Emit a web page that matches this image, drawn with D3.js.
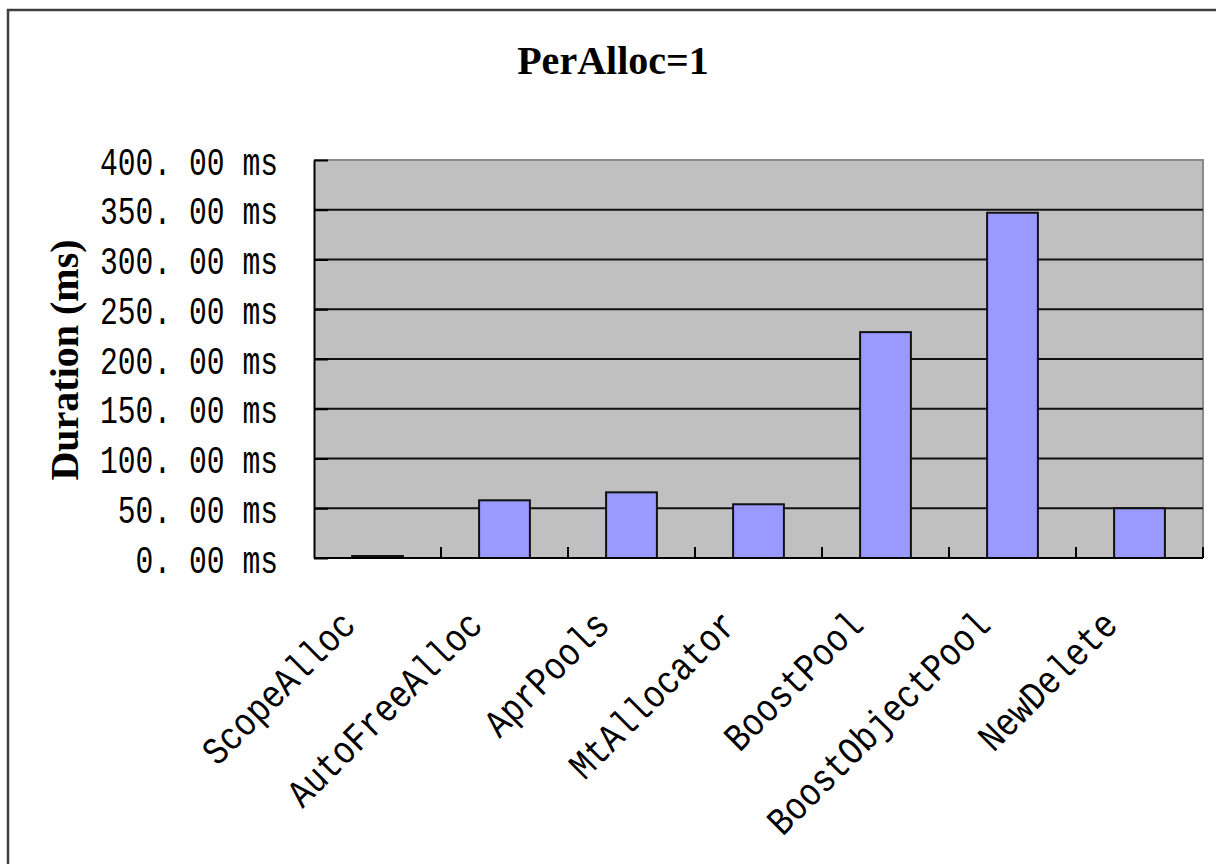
<!DOCTYPE html>
<html>
<head>
<meta charset="utf-8">
<script src="https://cdn.jsdelivr.net/npm/d3@7"></script>
<style>
  html, body { margin: 0; padding: 0; background: #fff; }
  svg { display: block; }
</style>
</head>
<body>
<svg id="chart" width="1216" height="864"></svg>
<script>
// Allocator benchmark, one allocation per iteration
const chartTitle = "PerAlloc=1";
const yAxisTitle = "Duration (ms)";
const categories = ["ScopeAlloc", "AutoFreeAlloc", "AprPools", "MtAllocator", "BoostPool", "BoostObjectPool", "NewDelete"];
const durations = [2, 58, 66, 54, 227, 347, 50];
const yTicks = [0, 50, 100, 150, 200, 250, 300, 350, 400];
const yTickFormat = v => v.toFixed(2).replace(".", ". ") + " ms";

const svg = d3.select("#chart");

// plot area
const plot = { left: 314, right: 1203, top: 160, bottom: 558 };

const x = d3.scaleBand()
  .domain(categories)
  .range([plot.left, plot.right])
  .paddingInner(0.6)
  .paddingOuter(0.3);

const y = d3.scaleLinear()
  .domain([0, 400])
  .range([plot.bottom, plot.top]);

// outer chart frame
svg.append("rect")
  .attr("x", 8).attr("y", 10)
  .attr("width", 1240).attr("height", 900)
  .attr("fill", "#fff")
  .attr("stroke", "#404040")
  .attr("stroke-width", 2.5);

// title
svg.append("text")
  .attr("x", 613).attr("y", 74)
  .attr("text-anchor", "middle")
  .attr("font-family", "'Liberation Serif', 'Times New Roman', serif")
  .attr("font-weight", "bold")
  .attr("font-size", 40)
  .text(chartTitle);

// plot background
svg.append("rect")
  .attr("x", plot.left).attr("y", plot.top)
  .attr("width", plot.right - plot.left)
  .attr("height", plot.bottom - plot.top)
  .attr("fill", "#c0c0c0");

// top and right plot border
svg.append("path")
  .attr("d", `M${plot.left},${plot.top}H${plot.right}V${plot.bottom}`)
  .attr("fill", "none")
  .attr("stroke", "#8a8a8a")
  .attr("stroke-width", 2);

// horizontal gridlines
svg.append("g")
  .selectAll("line")
  .data(yTicks.filter(v => v > 0 && v < 400))
  .join("line")
  .attr("x1", plot.left).attr("x2", plot.right)
  .attr("y1", d => y(d)).attr("y2", d => y(d))
  .attr("stroke", "#111")
  .attr("stroke-width", 2);

// bars
svg.append("g")
  .selectAll("rect")
  .data(categories.map((c, i) => ({ c, v: durations[i] })))
  .join("rect")
  .attr("x", d => x(d.c))
  .attr("y", d => y(d.v))
  .attr("width", x.bandwidth())
  .attr("height", d => y(0) - y(d.v))
  .attr("fill", "#9999ff")
  .attr("stroke", "#111")
  .attr("stroke-width", 2);

// y axis with inward ticks
const yAxis = svg.append("g")
  .attr("transform", `translate(${plot.left},0)`)
  .call(d3.axisLeft(y)
    .tickValues(yTicks)
    .tickFormat(yTickFormat)
    .tickSizeInner(-14)
    .tickSizeOuter(0)
    .tickPadding(36));
yAxis.select(".domain").attr("stroke", "#000").attr("stroke-width", 2);
yAxis.selectAll(".tick line").attr("stroke", "#000").attr("stroke-width", 2);
yAxis.selectAll(".tick text")
  .attr("font-family", "'Liberation Mono', 'DejaVu Sans Mono', monospace")
  .attr("font-size", 39)
  .attr("fill", "#000")
  .attr("dy", "0.36em")
  .attr("textLength", function () { return this.textContent.length * 17.8; })
  .attr("lengthAdjust", "spacingAndGlyphs");

// x axis line
svg.append("line")
  .attr("x1", plot.left).attr("x2", plot.right)
  .attr("y1", plot.bottom).attr("y2", plot.bottom)
  .attr("stroke", "#000")
  .attr("stroke-width", 2);

// category boundary ticks, pointing into the plot
const gap = (x.step() - x.bandwidth()) / 2;
const boundaries = categories.slice(1).map(c => x(c) - gap).concat([plot.right]);
svg.append("g")
  .selectAll("line")
  .data(boundaries)
  .join("line")
  .attr("x1", d => d).attr("x2", d => d)
  .attr("y1", plot.bottom).attr("y2", plot.bottom - 11)
  .attr("stroke", "#000")
  .attr("stroke-width", 2);

// rotated category labels
svg.append("g")
  .selectAll("text")
  .data(categories)
  .join("text")
  .attr("transform", d => `translate(${x(d) + x.bandwidth() / 2 - 20},627) rotate(-45)`)
  .attr("text-anchor", "end")
  .attr("font-family", "'Liberation Mono', 'DejaVu Sans Mono', monospace")
  .attr("font-size", 39)
  .attr("fill", "#000")
  .attr("textLength", d => d.length * 19.8)
  .attr("lengthAdjust", "spacingAndGlyphs")
  .text(d => d);

// y axis title
svg.append("text")
  .attr("transform", "translate(78,360) rotate(-90)")
  .attr("text-anchor", "middle")
  .attr("font-family", "'Liberation Serif', 'Times New Roman', serif")
  .attr("font-weight", "bold")
  .attr("font-size", 40)
  .text(yAxisTitle);
</script>
</body>
</html>
